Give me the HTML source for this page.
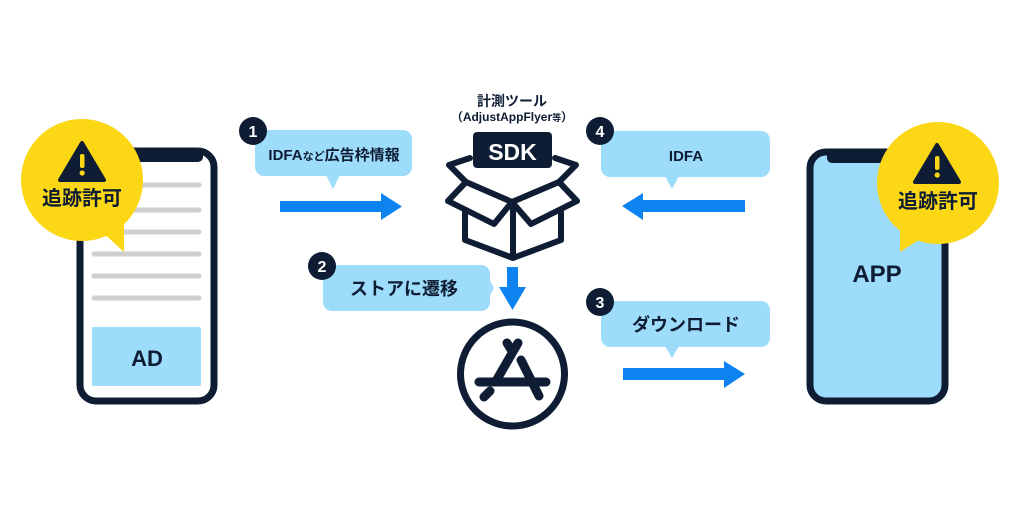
<!DOCTYPE html>
<html><head><meta charset="utf-8"><style>
html,body{margin:0;padding:0;background:#fff;}
svg{display:block;}
text{font-family:"Liberation Sans","Noto Sans CJK JP",sans-serif;font-weight:bold;fill:#0e1d33;}
</style></head><body>
<svg width="1024" height="512" viewBox="0 0 1024 512" xmlns="http://www.w3.org/2000/svg">
<rect width="1024" height="512" fill="#fff"/>
<!-- Left phone -->
<rect x="80" y="151" width="134" height="250" rx="16" fill="#fff" stroke="#0e1d33" stroke-width="7"/>
<path d="M125 151 h78 v6 a5 5 0 0 1 -5 5 h-68 a5 5 0 0 1 -5 -5z" fill="#0e1d33"/>
<g stroke="#cfcfcf" stroke-width="5" stroke-linecap="round">
<line x1="94" y1="185" x2="199" y2="185"/>
<line x1="94" y1="210" x2="199" y2="210"/>
<line x1="94" y1="232" x2="199" y2="232"/>
<line x1="94" y1="254" x2="199" y2="254"/>
<line x1="94" y1="276" x2="199" y2="276"/>
<line x1="94" y1="298" x2="199" y2="298"/>
</g>
<rect x="92" y="327" width="109" height="59" rx="2" fill="#9ddcfb"/>
<text x="147" y="366" font-size="22" text-anchor="middle">AD</text>
<!-- Left yellow bubble -->
<path d="M100 230 L124 252 L124 225 Z" fill="#fcd716"/>
<circle cx="82" cy="180" r="61" fill="#fcd716"/>
<path d="M82 143 L104 180 L60 180 Z" fill="#0e1d33" stroke="#0e1d33" stroke-width="4" stroke-linejoin="round"/>
<rect x="80" y="154" width="4.5" height="14" rx="2" fill="#fcd716"/>
<circle cx="82.2" cy="173" r="2.6" fill="#fcd716"/>
<text x="82" y="205" font-size="20" text-anchor="middle">追跡許可</text>
<!-- Bubble 1 -->
<rect x="255" y="130" width="157" height="46" rx="9" fill="#9ddcfb"/>
<path d="M326 175 L333 189 L340 175 Z" fill="#9ddcfb"/>
<text x="334" y="160" font-size="15" text-anchor="middle">IDFA<tspan font-size="11">など</tspan>広告枠情報</text>
<circle cx="253" cy="131" r="14" fill="#0e1d33"/>
<text x="253" y="137" font-size="16" fill="#fff" text-anchor="middle" style="fill:#fff">1</text>
<path d="M280 201 H381 V193 L402 206.5 L381 220 V212 H280 Z" fill="#0c83ee"/>
<!-- SDK -->
<text x="512" y="106" font-size="14" text-anchor="middle">計測ツール</text>
<text x="512" y="121" font-size="12" text-anchor="middle">（AdjustAppFlyer<tspan font-size="9">等</tspan>）</text>
<g fill="none" stroke="#0e1d33" stroke-width="6" stroke-linejoin="round" stroke-linecap="round">
<path d="M466 182 L512 202 L559 182"/>
<path d="M466 182 L449 165 L470 158"/>
<path d="M559 182 L576 165 L555 158"/>
<path d="M466 182 L448 201 L494 224 L512 202 L531 224 L577 201 L559 182"/>
<path d="M465 212 V240 L513 258 L561 240 V212"/>
<path d="M513 202 V258"/>
</g>
<rect x="473" y="132" width="79" height="36" rx="4" fill="#0e1d33"/>
<text x="512.5" y="160" font-size="23" text-anchor="middle" style="fill:#fff">SDK</text>
<!-- down arrow -->
<path d="M507 267 H518 V287 H526 L512.5 310 L499 287 H507 Z" fill="#0c83ee"/>
<!-- Bubble 2 -->
<rect x="323" y="265" width="167" height="46" rx="9" fill="#9ddcfb"/>
<path d="M489 279 L494 288 L489 297 Z" fill="#9ddcfb"/>
<text x="404" y="295" font-size="18" text-anchor="middle">ストアに遷移</text>
<circle cx="322" cy="266" r="14" fill="#0e1d33"/>
<text x="322" y="272" font-size="16" text-anchor="middle" style="fill:#fff">2</text>
<!-- app store -->
<circle cx="512.5" cy="374" r="52" fill="#fff" stroke="#0e1d33" stroke-width="7"/>
<g stroke="#0e1d33" stroke-width="9" stroke-linecap="round" fill="none">
<line x1="518" y1="343" x2="496" y2="381"/>
<line x1="507" y1="343" x2="512" y2="351"/>
<line x1="521" y1="360" x2="539" y2="396"/>
<line x1="479" y1="382" x2="546" y2="382"/>
<line x1="484" y1="397" x2="490" y2="391"/>
</g>
<!-- Bubble 4 -->
<rect x="601" y="131" width="169" height="46" rx="9" fill="#9ddcfb"/>
<path d="M665 176 L672 189 L679 176 Z" fill="#9ddcfb"/>
<text x="686" y="161" font-size="15" text-anchor="middle">IDFA</text>
<circle cx="600" cy="131" r="14" fill="#0e1d33"/>
<text x="600" y="137" font-size="16" text-anchor="middle" style="fill:#fff">4</text>
<path d="M745 200 H643 V193 L622 206 L643 220 V212 H745 Z" fill="#0c83ee"/>
<!-- Bubble 3 -->
<rect x="601" y="301" width="169" height="46" rx="9" fill="#9ddcfb"/>
<path d="M665 346 L672 358 L679 346 Z" fill="#9ddcfb"/>
<text x="686" y="331" font-size="18" text-anchor="middle">ダウンロード</text>
<circle cx="600" cy="302" r="14" fill="#0e1d33"/>
<text x="600" y="308" font-size="16" text-anchor="middle" style="fill:#fff">3</text>
<path d="M623 368 H724 V361 L745 374 L724 388 V380 H623 Z" fill="#0c83ee"/>
<!-- Right phone -->
<rect x="810" y="152" width="135" height="249" rx="16" fill="#9ddcfb" stroke="#0e1d33" stroke-width="7"/>
<path d="M827 152 h90 v6 a5 5 0 0 1 -5 5 h-80 a5 5 0 0 1 -5 -5z" fill="#0e1d33"/>
<text x="877" y="282" font-size="24" text-anchor="middle">APP</text>
<path d="M900 226 L900 252 L925 236 Z" fill="#fcd716"/>
<circle cx="938" cy="183" r="61" fill="#fcd716"/>
<path d="M937 145 L959 182 L915 182 Z" fill="#0e1d33" stroke="#0e1d33" stroke-width="4" stroke-linejoin="round"/>
<rect x="935" y="156" width="4.5" height="14" rx="2" fill="#fcd716"/>
<circle cx="937.2" cy="175" r="2.6" fill="#fcd716"/>
<text x="938" y="208" font-size="20" text-anchor="middle">追跡許可</text>
</svg>
</body></html>
